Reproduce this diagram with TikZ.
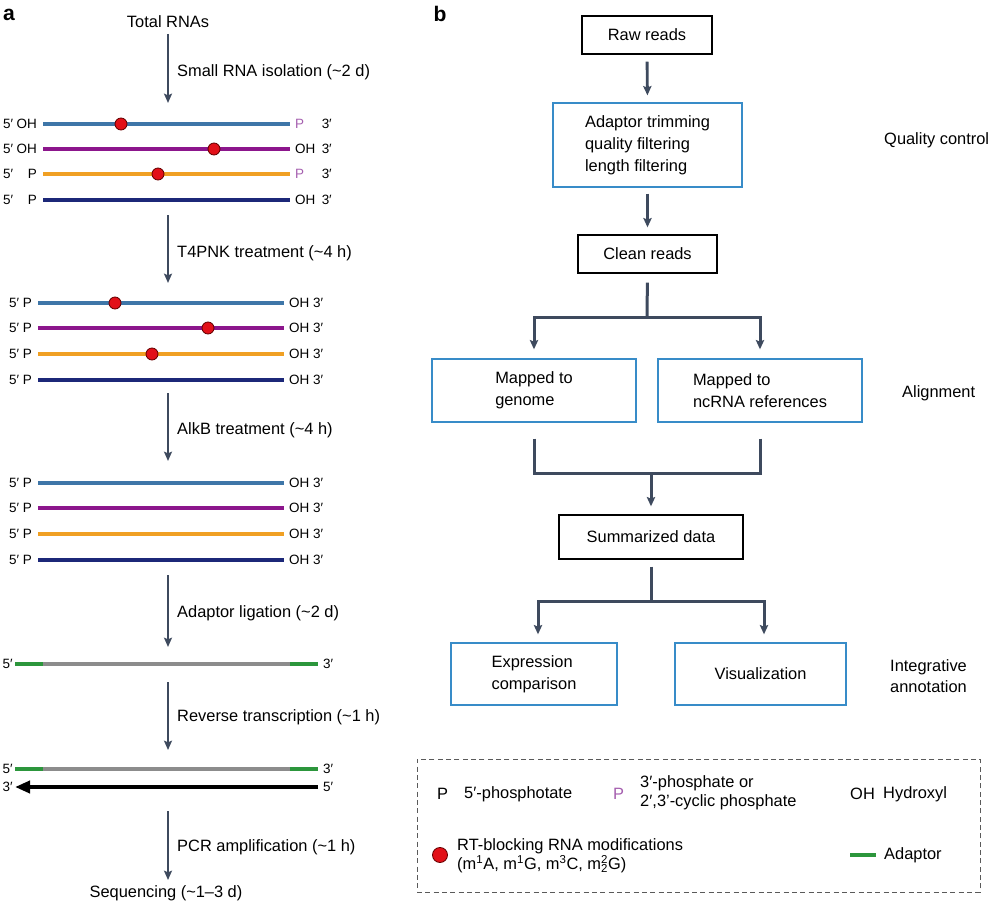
\documentclass[tikz,border=0pt]{standalone}
\usepackage{fontspec}
\setmainfont{Liberation Sans}
\usetikzlibrary{arrows.meta}
\definecolor{cA}{RGB}{62,118,168}
\definecolor{cB}{RGB}{140,22,140}
\definecolor{cC}{RGB}{240,160,36}
\definecolor{cD}{RGB}{28,40,120}
\definecolor{adg}{RGB}{44,150,60}
\definecolor{rnag}{RGB}{140,140,140}
\definecolor{dotr}{RGB}{226,16,24}
\definecolor{arrc}{RGB}{62,74,94}
\definecolor{boxb}{RGB}{56,140,200}
\definecolor{pp}{RGB}{165,95,175}
\definecolor{dashc}{RGB}{90,90,90}
\newcommand\mainfs{\fontsize{14pt}{18.7pt}\selectfont}
\newcommand\labfs{\fontsize{11.5pt}{14pt}\selectfont}
\newcommand\legfs{\fontsize{14pt}{16.2pt}\selectfont}
\begin{document}
\begin{tikzpicture}[x=0.3mm,y=-0.3mm,
  txt/.style={font=\mainfs, inner sep=0pt},
  lab/.style={font=\labfs, inner sep=0pt},
  strand/.style={line width=1.2mm},
  adline/.style={line width=1mm},
  rnadot/.style={circle, fill=dotr, draw=black!60!red, line width=0.25mm, minimum size=3.6mm, inner sep=0pt},
  farrow/.style={draw=arrc, line width=0.75mm, -{Stealth[length=2.8mm,width=2.4mm,inset=0.5mm]}},
  barrow/.style={draw=arrc, line width=0.85mm, -{Stealth[length=2.8mm,width=2.5mm,inset=0.5mm]}},
  tline/.style={draw=arrc, line width=0.9mm},
  bbox/.style={draw=black, line width=0.4mm, inner sep=0pt, font=\mainfs, align=center},
  cbox/.style={draw=boxb, line width=0.4mm, inner sep=0pt, font=\mainfs, align=left},
  plabel/.style={font=\fontsize{18pt}{20pt}\selectfont\bfseries, inner sep=0pt},
]
\useasboundingbox (0,0) rectangle (1000,905);

% ---------------- panel a ----------------
\node[plabel] (la) at (9,15) {a};
\node[txt] (total) at (168,22) {Total RNAs};

% group 1
\foreach \y/\c/\l/\r/\rc [count=\i] in {124/cA/OH/P/pp,149/cB/OH/OH/black,174/cC/P/P/pp,200/cD/P/OH/black}{
  \coordinate (gaw\i) at (43,\y); \coordinate (gae\i) at (290,\y);
  \draw[strand,\c] (gaw\i) -- (gae\i);
  \node[lab,anchor=west] (gaf\i) at (3,\y) {5′};
  \node[lab,anchor=east] (gag\i) at (37,\y) {\l};
  \node[lab,anchor=west,text=\rc] (gah\i) at (295,\y) {\r};
  \node[lab,anchor=east] (gat\i) at (332,\y) {3′};
}
\node[rnadot] (da1) at (121,124) {};
\node[rnadot] (da2) at (214,149) {};
\node[rnadot] (da3) at (158,174) {};

% group 2
\foreach \y/\c [count=\i] in {303/cA,328/cB,354/cC,380/cD}{
  \coordinate (gbw\i) at (38,\y); \coordinate (gbe\i) at (284,\y);
  \draw[strand,\c] (gbw\i) -- (gbe\i);
  \node[lab,anchor=east] (gbl\i) at (32,\y) {5′ P};
  \node[lab,anchor=west] (gbr\i) at (289,\y) {OH 3′};
}
\node[rnadot] (db1) at (115,303) {};
\node[rnadot] (db2) at (208,328) {};
\node[rnadot] (db3) at (152,354) {};

% group 3
\foreach \y/\c [count=\i] in {483/cA,508/cB,534/cC,560/cD}{
  \coordinate (gcw\i) at (38,\y); \coordinate (gce\i) at (284,\y);
  \draw[strand,\c] (gcw\i) -- (gce\i);
  \node[lab,anchor=east] (gcl\i) at (32,\y) {5′ P};
  \node[lab,anchor=west] (gcr\i) at (289,\y) {OH 3′};
}

% adaptor-ligated rows
\foreach \y [count=\i] in {664,769}{
  \coordinate (ad1\i) at (15,\y); \coordinate (ad2\i) at (43,\y);
  \coordinate (ad3\i) at (290,\y); \coordinate (ad4\i) at (318,\y);
  \draw[adline,adg] (ad1\i) -- (ad2\i);
  \draw[adline,rnag] (ad2\i) -- (ad3\i);
  \draw[adline,adg] (ad3\i) -- (ad4\i);
  \node[lab,anchor=east] (adl\i) at (13,\y) {5′};
  \node[lab,anchor=west] (adr\i) at (323,\y) {3′};
}
\coordinate (rts) at (318,787); \coordinate (rte) at (15,787);
\draw[line width=1.2mm, -{Triangle[length=4.5mm,width=3.6mm]}] (rts) -- (rte);
\node[lab,anchor=east] (rtl) at (13,787) {3′};
\node[lab,anchor=west] (rtr) at (323,787) {5′};

% flow arrows of panel a
\foreach \s/\e/\t/\ly [count=\i] in {
  34/103/{Small RNA isolation (\textasciitilde2 d)}/72,
  215/283/{T4PNK treatment (\textasciitilde4 h)}/253,
  393/461/{AlkB treatment (\textasciitilde4 h)}/430,
  575/647/{Adaptor ligation (\textasciitilde2 d)}/613,
  682/750/{Reverse transcription (\textasciitilde1 h)}/717,
  811/880/{PCR amplification (\textasciitilde1 h)}/847}{
  \coordinate (fs\i) at (168,\s); \coordinate (fe\i) at (168,\e);
  \draw[farrow] (fs\i) -- (fe\i);
  \node[txt,anchor=west] (fl\i) at (177,\ly) {\t};
}
\node[txt] (seq) at (166,893) {Sequencing (\textasciitilde1–3 d)};

% ---------------- panel b ----------------
\node[plabel] (lb) at (440,14) {b};
\node[bbox, minimum width=39mm, minimum height=11.4mm] (raw) at (647,35) {Raw reads};
\node[cbox, minimum width=56.7mm, minimum height=25.2mm] (trim) at (647.5,145) {Adaptor trimming\\quality filtering\\length filtering};
\node[bbox, minimum width=41.7mm, minimum height=11.4mm] (clean) at (647.5,254) {Clean reads};
\node[cbox, minimum width=61.2mm, minimum height=18.9mm] (genome) at (534,390.5) {Mapped to\\genome};
\node[cbox, minimum width=61.2mm, minimum height=18.9mm] (ncrna) at (760,390.5) {Mapped to\\ncRNA references};
\node[bbox, minimum width=55.2mm, minimum height=13.2mm] (summ) at (651,537) {Summarized data};
\node[cbox, minimum width=49.8mm, minimum height=18.6mm] (expr) at (534,674) {Expression\\comparison};
\node[cbox, minimum width=51.3mm, minimum height=18.6mm] (vis) at (760.5,674) {Visualization};

\node[txt,anchor=west] (qc) at (884,140) {Quality control};
\node[txt,anchor=west] (al) at (902,393) {Alignment};
\node[txt,anchor=west,align=left,font=\fontsize{14pt}{17.9pt}\selectfont] (ia) at (890,676.5) {Integrative\\annotation};

\draw[barrow, shorten <=2.1mm, shorten >=2.1mm] (raw.south) -- (trim.north);
\draw[barrow, shorten <=1.8mm, shorten >=2.1mm] (trim.south) -- (clean.north);
\coordinate (sp1) at (647,317);
\draw[tline, shorten <=2.7mm] (clean.south) -- (sp1);
\draw[barrow, line width=0.9mm, shorten >=2.7mm] (sp1) -| (genome.north);
\draw[barrow, line width=0.9mm, shorten >=2.7mm] (sp1) -| (ncrna.north);
\coordinate (mg) at (651,473);
\draw[tline, shorten <=4.8mm] (genome.south) |- (mg);
\draw[tline, shorten <=4.8mm] (ncrna.south) |- (mg);
\draw[barrow, line width=0.9mm, shorten >=2.4mm] (mg) -- (summ.north);
\coordinate (sp2) at (651,601);
\draw[tline, shorten <=2.1mm] (summ.south) -- (sp2);
\draw[barrow, line width=0.9mm, shorten >=2.4mm] (sp2) -| ([xshift=1.2mm]expr.north);
\draw[barrow, line width=0.9mm, shorten >=2.4mm] (sp2) -| ([xshift=1.05mm]vis.north);

% ---------------- legend ----------------
\node[draw=dashc, line width=0.3mm, dash pattern=on 1.5mm off 1mm, minimum width=168.9mm, minimum height=39.9mm, inner sep=0pt] (legend) at (698.5,825.5) {};
\node[txt,anchor=west] (lp1) at (437,794) {P};
\node[txt,anchor=west] (lp1t) at (464,794) {5′-phosphotate};
\node[txt,anchor=west,text=pp] (lp2) at (613,794) {P};
\node[txt,anchor=west,align=left,font=\legfs] (lp2t) at (640,792.5) {3′-phosphate or\\2′,3'-cyclic phosphate};
\node[txt,anchor=west] (loh) at (850,794) {OH};
\node[txt,anchor=west] (loht) at (883,794) {Hydroxyl};
\node[rnadot, minimum size=4.5mm] (ldot) at (440,855) {};
\node[txt,anchor=west,align=left,font=\legfs] (ldott) at (457,856) {RT-blocking RNA modifications\\(m\textsuperscript{1}A, m\textsuperscript{1}G, m\textsuperscript{3}C, m\rlap{\textsuperscript{2}}\textsubscript{2}G)};
\coordinate (lg1) at (850,855); \coordinate (lg2) at (876,855);
\draw[adline,adg] (lg1) -- (lg2);
\node[txt,anchor=west] (lgt) at (884,855) {Adaptor};
\end{tikzpicture}
\end{document}
